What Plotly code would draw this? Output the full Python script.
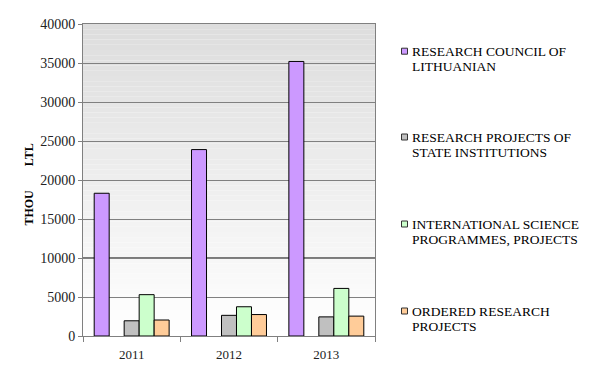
import plotly.graph_objects as go

years = ["2011", "2012", "2013"]
series_names = [
    ["RESEARCH COUNCIL OF", "LITHUANIAN"],
    ["RESEARCH PROJECTS OF", "STATE INSTITUTIONS"],
    ["INTERNATIONAL SCIENCE", "PROGRAMMES, PROJECTS"],
    ["ORDERED RESEARCH", "PROJECTS"],
]
research_council = [18300, 23900, 35200]
state_institutions = [1950, 2650, 2450]
international = [5300, 3750, 6100]
ordered = [2050, 2750, 2550]
series_values = [research_council, state_institutions, international, ordered]
colors = ["#CC99FF", "#C0C0C0", "#CCFFCC", "#FFCC99"]
offsets = [-0.385, -0.077, 0.077, 0.231]
bar_width = 0.154
y_ticks = list(range(0, 40001, 5000))
y_ticktext = [str(v) for v in y_ticks]
highlight_line = 10000

W, H = 600, 382
L, R, T, B = 83, 225, 24, 46
pw, ph = W - L - R, H - T - B

FONT = "Liberation Serif, Times New Roman, serif"

fig = go.Figure()
for name, vals, col, off in zip(series_names, series_values, colors, offsets):
    fig.add_trace(go.Bar(
        x=years, y=vals, name=" ".join(name),
        marker=dict(color=col, line=dict(color="black", width=1)),
        offset=off, width=bar_width, showlegend=False,
    ))

shapes = []
n = 60
for i in range(n):
    f = i / (n - 1)
    c = int(round(221 + (255 - 221) * f))
    shapes.append(dict(type="rect", xref="paper", yref="paper", x0=0, x1=1,
                       y0=1 - (i + 1) / n, y1=1 - i / n, layer="below",
                       line=dict(width=0), fillcolor=f"rgb({c},{c},{c})"))
shapes.append(dict(type="line", xref="paper", yref="y", x0=0, x1=1, y0=highlight_line, y1=highlight_line,
                   line=dict(color="black", width=1), layer="below"))

annotations = []
legend_line1 = [51.7, 137.5, 224.5, 311.5]
for lines, col, y1 in zip(series_names, colors, legend_line1):
    for k, txt in enumerate(lines):
        yc = y1 + 15 * k
        annotations.append(dict(xref="paper", yref="paper", x=(410 - L) / pw, y=(H - B - yc) / ph,
                                xanchor="left", yanchor="middle", align="left", showarrow=False,
                                text=txt, font=dict(family=FONT, size=13.5, color="black")))
    sq_top = y1 - 3.5
    shapes.append(dict(type="rect", xref="paper", yref="paper",
                       x0=(401.5 - L) / pw, x1=(407.5 - L) / pw,
                       y0=(H - B - (sq_top + 6)) / ph, y1=(H - B - sq_top) / ph,
                       fillcolor=col, line=dict(color="#333333", width=1)))

fig.update_layout(
    width=W, height=H, margin=dict(l=L, r=R, t=T, b=B, autoexpand=False),
    paper_bgcolor="white", plot_bgcolor="white",
    barmode="overlay", shapes=shapes, annotations=annotations,
    font=dict(family=FONT, size=13, color="#222222"),
    xaxis=dict(type="category", showgrid=False, showline=True, linecolor="#808080", mirror=True,
               ticks="outside", tickson="boundaries", ticklen=5, tickcolor="#808080",
               ticklabelstandoff=6,
               tickfont=dict(family=FONT, size=13, color="#222222"), range=[-0.5, 2.5]),
    yaxis=dict(range=[0, 40000], tickvals=y_ticks, ticktext=y_ticktext, showgrid=True,
               gridcolor="#808080", gridwidth=1,
               showline=True, linecolor="#808080", mirror=True, ticks="outside", ticklen=4,
               tickcolor="#808080", zeroline=False,
               tickfont=dict(family=FONT, size=14, color="#222222"),
               title=dict(text="<b>THOU" + "\u00a0" * 8 + "LTL" + "\u00a0" * 3 + "</b>", standoff=4,
                          font=dict(family=FONT, size=12, color="black"))),
)

fig.write_html("out.html", config={"displayModeBar": False},
               post_script="document.body.style.margin='0';document.body.style.overflow='hidden';")
